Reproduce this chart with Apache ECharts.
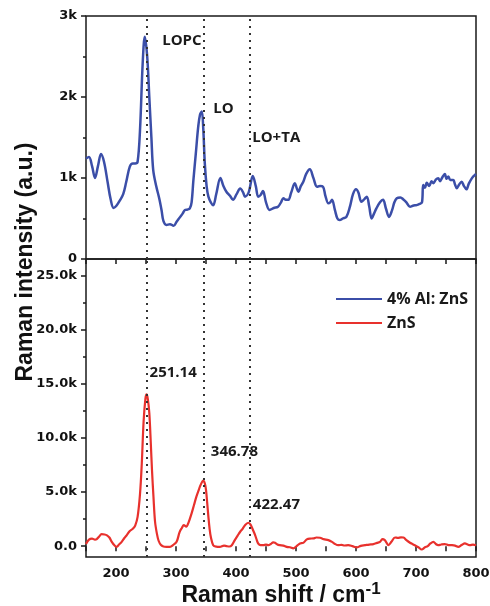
<!DOCTYPE html>
<html>
<head>
<meta charset="utf-8">
<script src="https://cdn.jsdelivr.net/npm/echarts@6/dist/echarts.min.js"></script>
<style>
  html, body { margin: 0; padding: 0; background: #fff; }
  #chart { width: 490px; height: 606px; }
</style>
</head>
<body>
<div id="chart"></div>
<script>
// 4% Al: ZnS (upper panel)
const blueShift = [150,155,160,165,170,175,180,186,191,196,201,207,212,217,223,228,232,236,240,244.5,248,252,255.5,259,262,267,272,276,279,284,290,296,301,307,311,315,319,323,326,329,333,337,340,343,345.5,348,351,354,358,362,367,374,379,384,390,395,401,407,412,415,421,428,433,437,441,445,450,456,463,470,475,479,483,487,492,498,501,504,508,512,517,523,529,535,540,545,549,554,557,560,565,569,573,578,584,590,595,600,604,609,614,618,622,626,630,634,640,645,650,655,660,664,668,674,679,684,690,696,701,706,710,712,715,718,722,726,729,733,737,740,744,748,751,754,757,762,765,768,772,776,780,784,788,793,797,800];
const blueIntensity = [1240,1260,1150,1000,1150,1296,1200,950,740,630,660,730,800,950,1140,1180,1180,1200,1590,2420,2745,2500,2000,1500,1100,900,750,600,470,420,430,410,460,520,560,605,610,625,700,975,1300,1630,1780,1820,1600,1180,900,770,700,665,800,1000,900,830,780,730,800,870,820,770,820,1025,900,770,790,840,700,605,630,645,700,750,730,730,820,935,880,830,900,950,1050,1107,1000,893,900,893,780,687,700,730,600,500,480,500,520,650,800,860,820,707,740,770,650,500,560,625,700,730,620,520,600,700,750,760,735,700,645,660,665,680,700,913,880,940,900,960,935,980,996,960,1010,1050,990,1020,975,975,920,873,920,955,900,860,930,996,1030,1050];

// ZnS (lower panel)
const redShift = [150,155,160,165,168,172,176,181,185,189,193,197,201,205,209.5,214,218,223,228,232,236,240,243,246,249,251,253,255.5,258,260,262.5,265,268,271,275,279,284,290,295,301,306,310,313,317,321,326,330,334,338,341,345.5,348,350,352,354,356,358,362,367,373,380,384.5,389,393,398,403,407,411,415,420.5,424,426,429,432,435,437,441,445.5,450,454,458,462,465,469,473,479,484.5,490,495.5,501,506.7,512,518,523,529,534,540,546,554,560,565,570.5,576,581,587,594,601,608,615,622,629,635,640,644,648,651,654,659,665,670,675,679,684,690,694,698,704,709.5,715,719.5,724,729,733,737,742,748,754,759.5,765,770.5,776,781.5,786,790,795,800];
const redIntensity = [200,600,700,600,650,900,1110,1080,1000,800,400,100,-60,150,400,750,1020,1400,1600,1900,2700,4800,7650,11500,13600,14000,13600,12300,9500,7000,4500,2300,1200,500,100,-30,-60,-60,100,400,1300,1700,1940,1800,2200,3030,3800,4570,5200,5650,6050,5800,5190,4000,2710,1600,860,90,-40,-60,50,0,-30,90,560,1000,1330,1600,1940,2160,2000,1790,1400,1000,500,250,100,90,150,90,200,350,310,150,90,50,-60,-100,-210,0,250,300,620,700,710,800,780,650,560,400,200,90,120,60,90,0,-120,30,90,150,190,300,400,650,560,300,90,400,800,760,820,800,550,310,200,90,-100,-310,-100,0,250,400,200,90,150,190,100,90,50,-60,100,250,150,90,150,90];

const peakShifts = [251.14, 346.78, 422.47];
const modeNames = ['LOPC', 'LO', 'LO+TA'];
const peakLabels = ['251.14', '346.78', '422.47'];
const bottomTicks = [0, 5000, 10000, 15000, 20000, 25000];
const bottomMinorTicks = [2500, 7500, 12500, 17500, 22500];

const blueData = blueShift.map((x, i) => [x, blueIntensity[i]]);
const redData = redShift.map((x, i) => [x, redIntensity[i]]);

const axisColor = '#1a1a1a';
const tickFont = { color: '#111', fontFamily: 'DejaVu Sans', fontWeight: 'bold', fontSize: 13 };
const noteFont = { color: '#1a1a1a', fontFamily: 'Open Sans', fontWeight: 'bold', fontSize: 15 };

const dotted = {
  symbol: 'none',
  silent: true,
  label: { show: false },
  lineStyle: { type: [2, 5], width: 2, color: '#333', cap: 'butt' },
  data: peakShifts.map(x => ({ xAxis: x }))
};

function notes(names, coords) {
  return {
    symbol: 'circle',
    symbolSize: 0,
    silent: true,
    label: { show: true, position: 'right', distance: 0, formatter: p => p.name, ...noteFont },
    data: names.map((n, i) => ({ name: n, coord: coords[i] }))
  };
}

const chart = echarts.init(document.getElementById('chart'), null, { renderer: 'canvas' });

const option = {
  animation: false,
  backgroundColor: '#fff',
  grid: [
    { left: 86, top: 16, width: 390, height: 243, show: true, borderColor: axisColor, borderWidth: 1.5, backgroundColor: 'transparent', outerBoundsMode: 'none' },
    { left: 86, top: 259, width: 390, height: 298, show: true, borderColor: axisColor, borderWidth: 1.5, backgroundColor: 'transparent', outerBoundsMode: 'none' }
  ],
  legend: {
    orient: 'vertical',
    left: 331,
    top: 286,
    itemWidth: 46,
    itemHeight: 2,
    itemGap: 8,
    icon: 'rect',
    textStyle: { color: '#1a1a1a', fontFamily: 'Open Sans', fontWeight: 'bold', fontSize: 16 },
    data: ['4% Al: ZnS', 'ZnS']
  },
  xAxis: [
    {
      gridIndex: 0, type: 'value', min: 150, max: 800, interval: 50,
      axisLine: { show: false },
      axisTick: { show: true, length: 5, lineStyle: { color: axisColor, width: 1.5 } },
      axisLabel: { show: false },
      splitLine: { show: false }
    },
    {
      gridIndex: 1, type: 'value', min: 150, max: 800, interval: 50,
      axisLine: { show: false },
      axisTick: { show: true, length: 5, lineStyle: { color: axisColor, width: 1.5 } },
      axisLabel: { ...tickFont, margin: 10, formatter: v => (v % 100 === 0 ? String(v) : '') },
      splitLine: { show: false },
      name: '{a|Raman shift / cm}{b|-1}',
      nameLocation: 'middle',
      nameGap: 24,
      nameTextStyle: {
        rich: {
          a: { fontFamily: 'Liberation Sans', fontWeight: 'bold', fontSize: 23, color: '#111', lineHeight: 30 },
          b: { fontFamily: 'Liberation Sans', fontWeight: 'bold', fontSize: 17, color: '#111', verticalAlign: 'top', lineHeight: 30 }
        }
      }
    }
  ],
  yAxis: [
    {
      gridIndex: 0, type: 'value', min: 0, max: 3000, interval: 1000,
      axisLine: { show: false },
      axisTick: { show: true, length: 5, lineStyle: { color: axisColor, width: 1.5 } },
      minorTick: { show: true, splitNumber: 2, length: 3, lineStyle: { color: axisColor, width: 1.5 } },
      axisLabel: { ...tickFont, margin: 9, formatter: v => (v === 0 ? '0' : (v / 1000) + 'k') },
      splitLine: { show: false }
    },
    {
      gridIndex: 1, type: 'value', min: -1000, max: 26500,
      axisLine: { show: false },
      axisTick: { show: true, length: 5, customValues: bottomTicks, lineStyle: { color: axisColor, width: 1.5 } },
      axisLabel: { ...tickFont, margin: 9, customValues: bottomTicks, formatter: v => (v === 0 ? '0.0' : (v / 1000).toFixed(1) + 'k') },
      splitLine: { show: false }
    },
    {
      gridIndex: 1, type: 'value', min: -1000, max: 26500, position: 'left',
      axisLine: { show: false },
      axisTick: { show: true, length: 3, customValues: bottomMinorTicks, lineStyle: { color: axisColor, width: 1.5 } },
      axisLabel: { show: false, customValues: bottomMinorTicks },
      splitLine: { show: false }
    }
  ],
  series: [
    {
      name: '4% Al: ZnS',
      type: 'line',
      xAxisIndex: 0,
      yAxisIndex: 0,
      data: blueData,
      symbol: 'none',
      smooth: 0.35,
      color: '#3b4ea8',
      lineStyle: { width: 2.5, color: '#3b4ea8' },
      markLine: dotted,
      markPoint: notes(modeNames, [[277, 2700], [362, 1860], [427, 1500]]),
      z: 3
    },
    {
      name: 'ZnS',
      type: 'line',
      xAxisIndex: 1,
      yAxisIndex: 1,
      data: redData,
      symbol: 'none',
      smooth: 0.35,
      color: '#e8312d',
      lineStyle: { width: 2.2, color: '#e8312d' },
      markLine: dotted,
      markPoint: notes(peakLabels, [[256, 16000], [358, 8700], [428, 3800]]),
      z: 3
    }
  ],
  graphic: [
    {
      type: 'text',
      x: 26,
      y: 262,
      rotation: Math.PI / 2,
      style: {
        text: 'Raman intensity (a.u.)',
        fontFamily: 'Liberation Sans',
        fontWeight: 'bold',
        fontSize: 23,
        fill: '#111',
        align: 'center',
        verticalAlign: 'middle'
      }
    }
  ]
};

chart.setOption(option);
</script>
</body>
</html>
